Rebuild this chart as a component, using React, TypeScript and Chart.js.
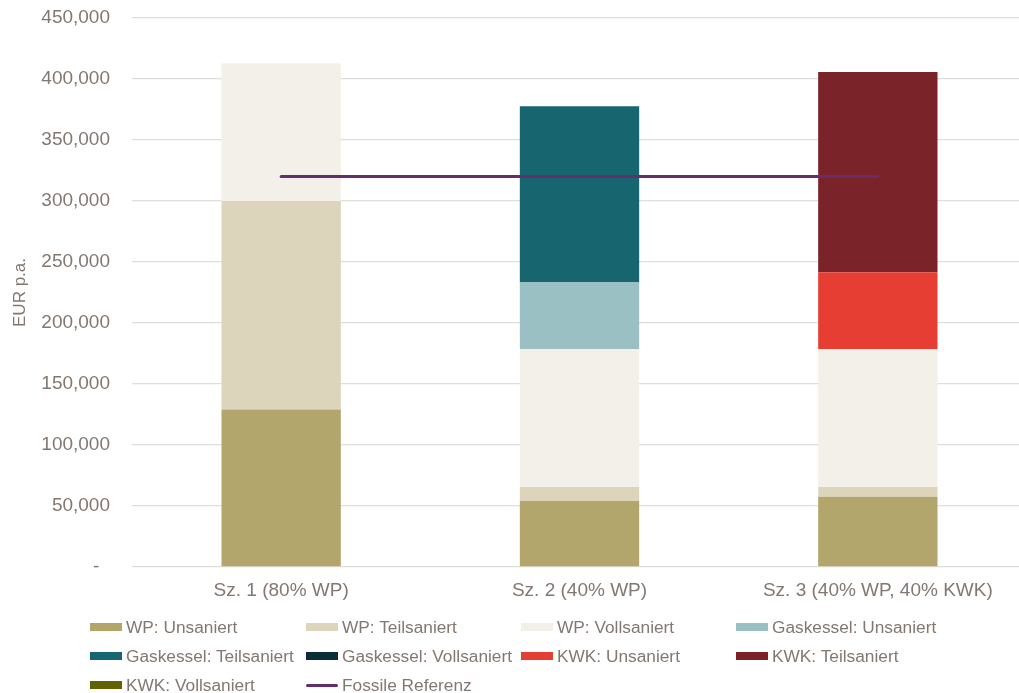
import React, { useEffect, useRef } from "react";
import { Chart, registerables } from "chart.js";

Chart.register(...registerables);

// Scenarios on the x axis
const categories = ["Sz. 1 (80% WP)", "Sz. 2 (40% WP)", "Sz. 3 (40% WP, 40% KWK)"];

// Annual costs (EUR p.a.) per technology / renovation state
const wpUnsaniert = [129000, 54000, 57500];
const wpTeilsaniert = [171000, 11500, 8000];
const wpVollsaniert = [113000, 113200, 113200];
const gasUnsaniert = [0, 55000, 0];
const gasTeilsaniert = [0, 144000, 0];
const gasVollsaniert = [0, 0, 0];
const kwkUnsaniert = [0, 0, 63000];
const kwkTeilsaniert = [0, 0, 164000];
const kwkVollsaniert = [0, 0, 0];

// Fossil reference cost level
const fossileReferenz = [320000, 320000, 320000];

const yMax = 450000;
const yStep = 50000;

const TEXT = "#837871";
const FONT = "'Liberation Sans', Arial, sans-serif";

const barSeries = [
  { label: "WP: Unsaniert", data: wpUnsaniert, color: "#b2a66c" },
  { label: "WP: Teilsaniert", data: wpTeilsaniert, color: "#dcd5bc" },
  { label: "WP: Vollsaniert", data: wpVollsaniert, color: "#f3f0e9" },
  { label: "Gaskessel: Unsaniert", data: gasUnsaniert, color: "#9bc0c3" },
  { label: "Gaskessel: Teilsaniert", data: gasTeilsaniert, color: "#17656f" },
  { label: "Gaskessel: Vollsaniert", data: gasVollsaniert, color: "#0a2e38" },
  { label: "KWK: Unsaniert", data: kwkUnsaniert, color: "#e73e34" },
  { label: "KWK: Teilsaniert", data: kwkTeilsaniert, color: "#7a2329" },
  { label: "KWK: Vollsaniert", data: kwkVollsaniert, color: "#636100" },
];

const lineSeries = { label: "Fossile Referenz", data: fossileReferenz, color: "#652d6b" };

const W = 1027;
const H = 693;

export default function App() {
  const canvasRef = useRef<HTMLCanvasElement | null>(null);

  useEffect(() => {
    document.body.style.margin = "0";
    document.body.style.overflow = "hidden";
    const canvas = canvasRef.current;
    if (!canvas) return;

    const chart = new Chart(canvas, {
      type: "bar",
      data: {
        labels: categories,
        datasets: [
          {
            type: "line",
            label: lineSeries.label,
            data: lineSeries.data,
            borderColor: lineSeries.color,
            backgroundColor: lineSeries.color,
            borderWidth: 3,
            borderCapStyle: "round",
            pointRadius: 0,
            pointHoverRadius: 0,
            order: 0,
          } as any,
          ...barSeries.map((s) => ({
            type: "bar" as const,
            label: s.label,
            data: s.data,
            backgroundColor: s.color,
            borderWidth: 0,
            stack: "total",
            order: 1,
          })),
        ],
      },
      options: {
        responsive: false,
        animation: false,
        devicePixelRatio: 1,
        layout: { padding: { top: 18, left: 0, right: 0, bottom: 0 } },
        plugins: {
          legend: { display: false },
          tooltip: { enabled: false },
        },
        datasets: {
          bar: { barPercentage: 0.4, categoryPercentage: 1 },
        },
        scales: {
          x: {
            stacked: true,
            grid: { display: false, drawTicks: false },
            border: { display: false },
            ticks: {
              color: TEXT,
              padding: 12,
              font: { family: FONT, size: 19 },
              maxRotation: 0,
            },
            afterFit: (scale: any) => {
              scale.height = 126;
            },
          },
          y: {
            stacked: true,
            min: 0,
            max: yMax,
            grid: { color: "#e0dedb", lineWidth: 1.3, drawTicks: false },
            border: { display: false },
            ticks: {
              stepSize: yStep,
              color: TEXT,
              padding: 22,
              font: { family: FONT, size: 19 },
              callback: (v: any) =>
                Number(v) === 0 ? "-  " : Number(v).toLocaleString("en-US"),
            },
            title: {
              display: true,
              text: "EUR p.a.",
              color: TEXT,
              font: { family: FONT, size: 17 },
              padding: { top: 10, bottom: 0 },
            },
            afterFit: (scale: any) => {
              scale.width = 132;
              scale.paddingTop = 0;
              scale.paddingBottom = 0;
            },
          },
        },
      },
    });

    return () => chart.destroy();
  }, []);

  const legendItems = [
    ...barSeries.map((s) => ({ label: s.label, color: s.color, line: false })),
    { label: lineSeries.label, color: lineSeries.color, line: true },
  ];
  const colX = [90, 306, 521, 736];
  const rowY = [627, 656, 685];

  return (
    <div style={{ position: "relative", width: W, height: H, overflow: "hidden", background: "#fff" }}>
      <canvas ref={canvasRef} width={W} height={H} style={{ display: "block", width: W, height: H }} />
      {legendItems.map((it, i) => {
        const col = i % 4;
        const row = Math.floor(i / 4);
        return (
          <div
            key={it.label}
            style={{
              position: "absolute",
              left: colX[col],
              top: rowY[row] - 12,
              height: 24,
              display: "flex",
              alignItems: "center",
              fontFamily: FONT,
              fontSize: 17.3,
              color: TEXT,
              whiteSpace: "nowrap",
            }}
          >
            <span
              style={{
                display: "inline-block",
                width: 32,
                height: it.line ? 3 : 8,
                borderRadius: it.line ? 2 : 0,
                background: it.color,
                marginRight: 4,
              }}
            />
            <span>{it.label}</span>
          </div>
        );
      })}
    </div>
  );
}
